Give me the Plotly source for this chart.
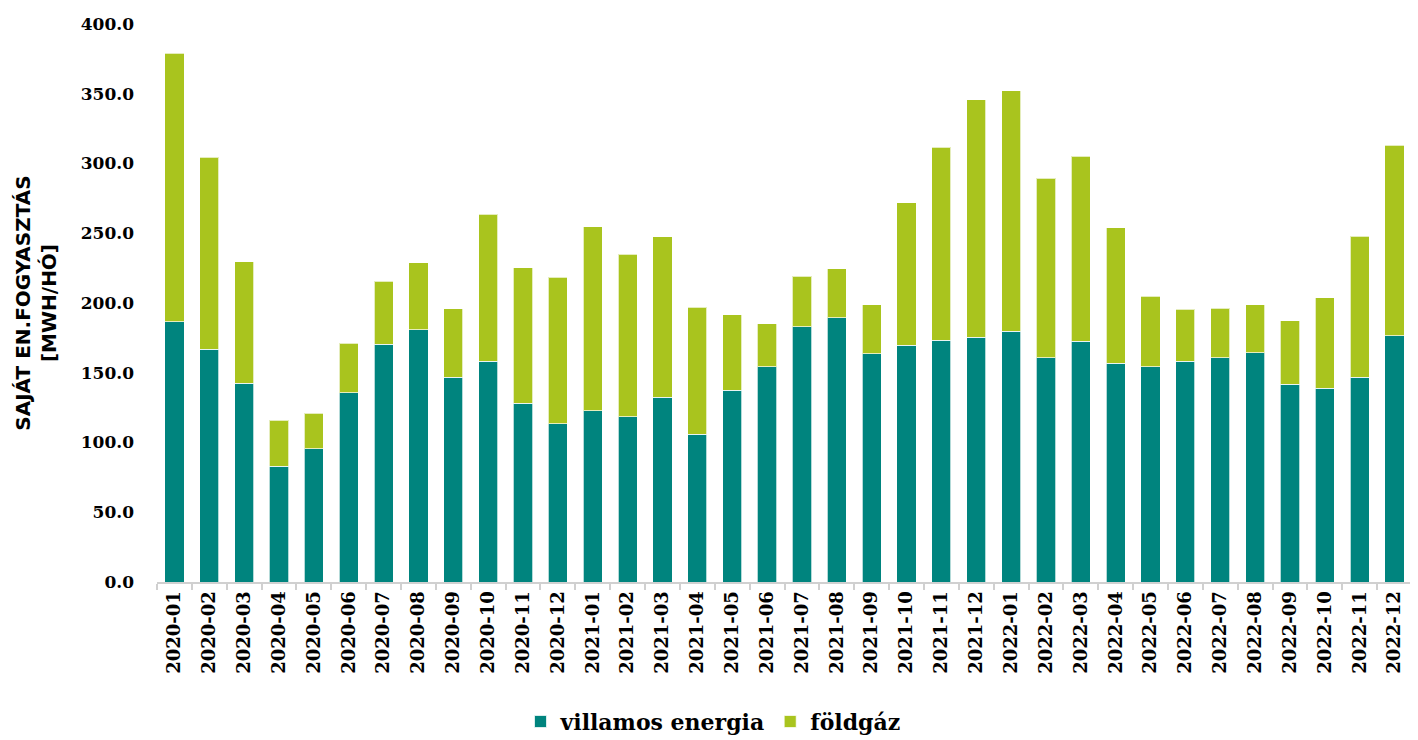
import plotly.graph_objects as go

months = ["2020-01","2020-02","2020-03","2020-04","2020-05","2020-06","2020-07","2020-08","2020-09","2020-10","2020-11","2020-12",
          "2021-01","2021-02","2021-03","2021-04","2021-05","2021-06","2021-07","2021-08","2021-09","2021-10","2021-11","2021-12",
          "2022-01","2022-02","2022-03","2022-04","2022-05","2022-06","2022-07","2022-08","2022-09","2022-10","2022-11","2022-12"]

villamos = [186.5, 167.0, 142.3, 82.8, 95.6, 135.5, 170.3, 180.8, 146.6, 158.2, 128.3, 113.4,
            122.9, 118.4, 132.6, 106.0, 137.4, 154.4, 183.1, 189.3, 163.5, 169.6, 173.2, 175.3,
            179.6, 160.9, 172.7, 156.8, 154.4, 158.2, 160.9, 164.4, 141.9, 139.0, 146.8, 176.7]

total = [378.9, 304.6, 229.4, 116.0, 120.8, 171.0, 215.7, 229.0, 196.0, 263.6, 225.4, 218.5,
         254.6, 234.9, 247.5, 196.9, 191.7, 185.0, 219.2, 224.7, 198.8, 271.9, 311.7, 345.7,
         352.1, 289.3, 305.1, 253.9, 205.0, 195.5, 196.2, 198.6, 187.4, 203.6, 247.7, 313.2]

foldgaz = [round(t - v, 1) for t, v in zip(total, villamos)]

series_names = ["villamos energia", "földgáz"]
colors = ["#00847E", "#A9C41E"]
yticks = [0, 50, 100, 150, 200, 250, 300, 350, 400]

SERIF = "DejaVu Serif"

fig = go.Figure()
for name, vals, col in zip(series_names, [villamos, foldgaz], colors):
    fig.add_trace(go.Bar(
        x=months, y=vals, name=name,
        marker=dict(color=col, line=dict(color="rgba(255,255,255,0.7)", width=1)),
    ))

fig.update_layout(
    barmode="stack",
    bargap=0.45,
    width=1410, height=732,
    margin=dict(l=149, r=6, t=12, b=158),
    paper_bgcolor="white",
    plot_bgcolor="white",
    font=dict(family=SERIF, color="black"),
    legend=dict(
        orientation="h", xref="container", yref="container",
        x=0.5, xanchor="center", y=0.025, yanchor="middle",
        font=dict(family=SERIF, size=22, weight="bold", color="black"),
        traceorder="normal",
    ),
    showlegend=True,
)

fig.update_xaxes(
    type="category",
    tickangle=-90,
    tickfont=dict(family=SERIF, size=18, weight="bold", color="black"),
    showline=True, linecolor="#d0d0d0", linewidth=2,
    ticks="outside", tickson="boundaries", ticklen=6, tickcolor="#d0d0d0", tickwidth=1.5,
    showgrid=False,
)

fig.update_yaxes(
    range=[0, 400],
    tickvals=yticks,
    ticktext=[f"{v:.1f}" for v in yticks],
    tickfont=dict(family=SERIF, size=17, weight="bold", color="black"),
    showgrid=False, zeroline=False, showline=False,
    ticks="", ticklabelstandoff=22,
    title=dict(
        text="SAJÁT EN.FOGYASZTÁS<br>[MWH/HÓ]",
        font=dict(family="DejaVu Sans", size=20, weight="bold", color="black"),
        standoff=18,
    ),
)

fig.write_html("out.html")
